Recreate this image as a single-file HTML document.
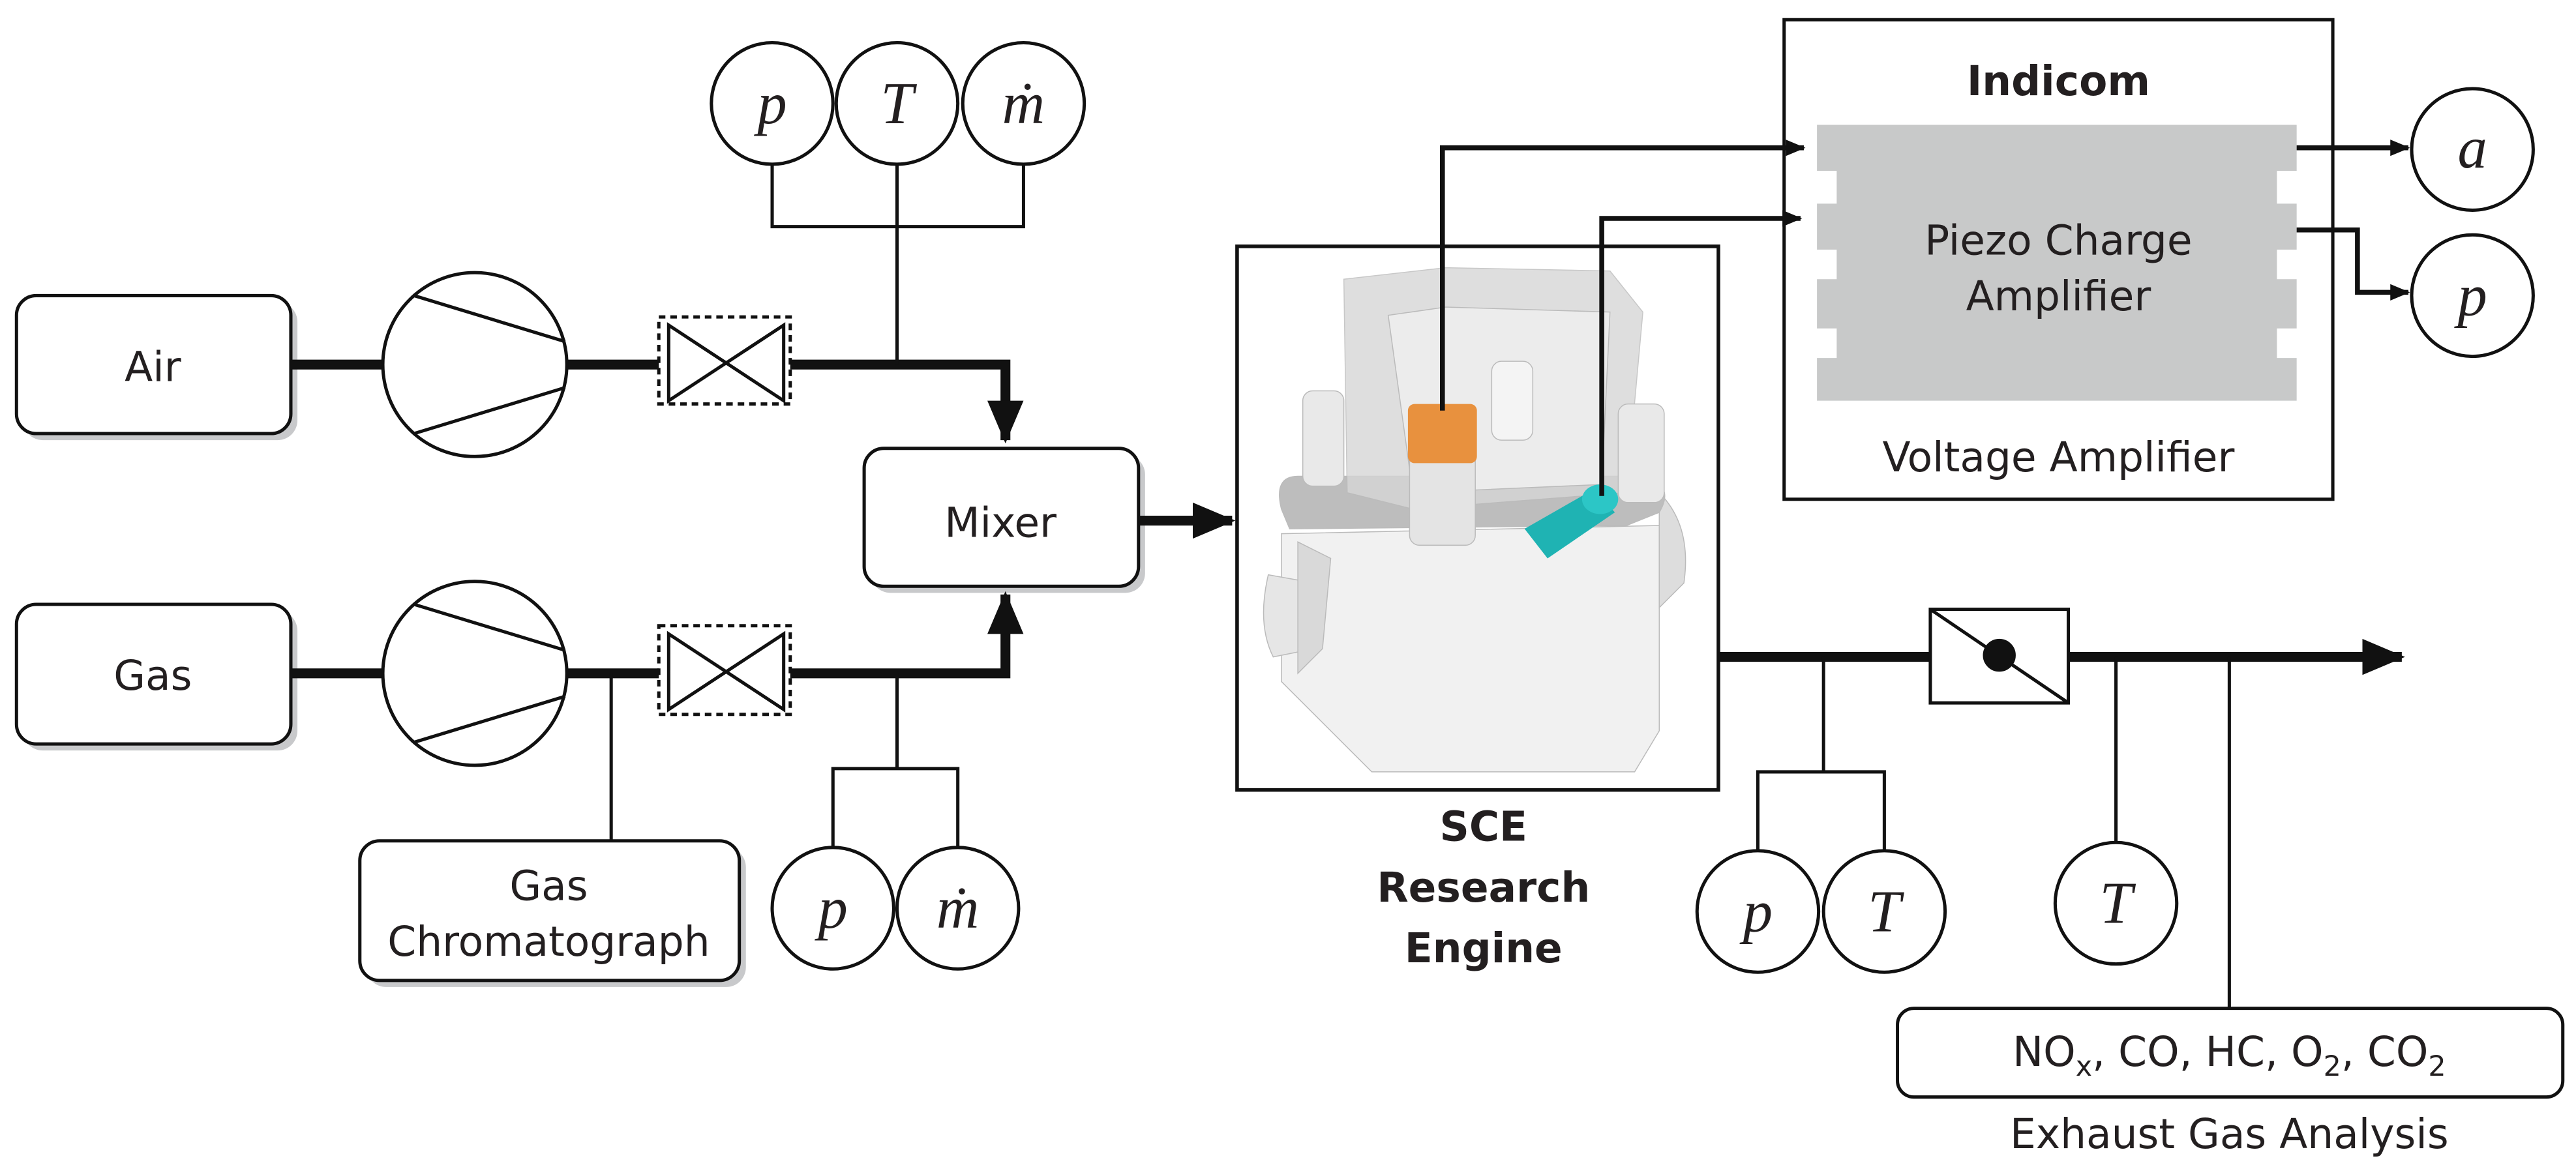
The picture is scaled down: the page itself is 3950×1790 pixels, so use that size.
<!DOCTYPE html>
<html><head><meta charset="utf-8"><style>
html,body{margin:0;padding:0;background:#fff;}
svg{display:block;}
text{font-family:"DejaVu Sans","Liberation Sans",sans-serif;fill:#231f20;}
.m{font-family:"Liberation Serif",serif;font-style:italic;font-size:36px;}
</style></head><body>
<svg width="3950" height="1790" viewBox="0 0 1568 710.6" xmlns="http://www.w3.org/2000/svg">
<defs>
<marker id="as" markerWidth="12" markerHeight="10" refX="11" refY="5" orient="auto" markerUnits="userSpaceOnUse"><path d="M0,0 L12,5 L0,10 z" fill="#111"/></marker>
<marker id="ab" markerWidth="26" markerHeight="22" refX="24" refY="11" orient="auto" markerUnits="userSpaceOnUse"><path d="M0,0 L26,11 L0,22 z" fill="#111"/></marker>
</defs>
<g fill="none" stroke="#111" stroke-width="2">
<rect x="14" y="184" width="167" height="84" rx="12" fill="#c8c9cb" stroke="none"/>
<rect x="14" y="372" width="167" height="85" rx="12" fill="#c8c9cb" stroke="none"/>
<rect x="223" y="516" width="231" height="85" rx="12" fill="#c8c9cb" stroke="none"/>
<rect x="530" y="277" width="167" height="84" rx="12" fill="#c8c9cb" stroke="none"/>
<rect x="10" y="180" width="167" height="84" rx="12" fill="#fff"/>
<rect x="10" y="368" width="167" height="85" rx="12" fill="#fff"/>
<rect x="219" y="512" width="231" height="85" rx="12" fill="#fff"/>
<rect x="526" y="273" width="167" height="84" rx="12" fill="#fff"/>
<rect x="1155" y="614" width="405" height="54" rx="10" fill="#fff"/>
<g stroke-width="6">
<line x1="177" y1="222" x2="233" y2="222"/><line x1="345" y1="222" x2="404" y2="222"/>
<path d="M478,222 H612 V268" marker-end="url(#ab)"/>
<line x1="177" y1="410" x2="233" y2="410"/><line x1="345" y1="410" x2="404" y2="410"/>
<path d="M478,410 H612 V362" marker-end="url(#ab)"/>
<path d="M693,317 H750" marker-end="url(#ab)"/>
<line x1="1046" y1="400" x2="1175" y2="400"/>
<path d="M1259,400 H1462" marker-end="url(#ab)"/>
</g>
<circle cx="289" cy="222" r="56" fill="#fff"/>
<line x1="252" y1="180" x2="344" y2="208"/><line x1="252" y1="264" x2="344" y2="236"/>
<circle cx="289" cy="410" r="56" fill="#fff"/>
<line x1="252" y1="368" x2="344" y2="396"/><line x1="252" y1="452" x2="344" y2="424"/>
<rect x="401" y="193" width="80" height="53" stroke-dasharray="4,3" fill="#fff"/>
<path d="M407,198 L477,244 V198 L407,244 Z" fill="#fff"/>
<rect x="401" y="381" width="80" height="54" stroke-dasharray="4,3" fill="#fff"/>
<path d="M407,386 L477,432 V386 L407,432 Z" fill="#fff"/>
<path d="M470,100 V138 H623 V100 M546,100 V222"/>
<path d="M372,410 V512"/>
<path d="M546,410 V468 M507,516 V468 H583 V516"/>
<path d="M1110,400 V470 M1070,518 V470 H1147 V518"/>
<path d="M1288,400 V513"/>
<path d="M1357,400 V614"/>
<circle cx="470" cy="63" r="37" fill="#fff"/><circle cx="546" cy="63" r="37" fill="#fff"/><circle cx="623" cy="63" r="37" fill="#fff"/>
<circle cx="507" cy="553" r="37" fill="#fff"/><circle cx="583" cy="553" r="37" fill="#fff"/>
<circle cx="1070" cy="555" r="37" fill="#fff"/><circle cx="1147" cy="555" r="37" fill="#fff"/>
<circle cx="1288" cy="550" r="37" fill="#fff"/>
<circle cx="1505" cy="91" r="37" fill="#fff"/><circle cx="1505" cy="180" r="37" fill="#fff"/>
<rect x="1175" y="371" width="84" height="57" fill="#fff"/>
<line x1="1175" y1="371" x2="1259" y2="428"/>
<circle cx="1217" cy="399" r="9" fill="#111"/>
<rect x="1086" y="12" width="334" height="292" fill="#fff"/>
</g>
<path d="M1106,76 H1398 V104 H1386 V124 H1398 V152 H1386 V170 H1398 V200 H1386 V218 H1398 V244 H1106 V218 H1118 V200 H1106 V170 H1118 V152 H1106 V124 H1118 V104 H1106 Z" fill="#c8c9c9"/>
<rect x="753" y="150" width="293" height="331" fill="#fff" stroke="#111" stroke-width="2.2"/>
<g stroke="#bbb" stroke-width="0.6">
<path d="M780,325 L780,415 L835,470 L995,470 L1010,445 L1010,320 Z" fill="#f1f1f1"/>
<path d="M772,350 Q765,380 775,400 L800,395 L800,355 Z" fill="#e6e6e6"/>
<path d="M790,330 L790,410 L805,395 L810,340 Z" fill="#d9d9d9"/>
<path d="M1010,300 Q1030,320 1025,355 L1010,370 Z" fill="#ddd"/>
<path d="M780,310 Q775,290 790,290 L1000,290 Q1020,295 1010,312 L990,320 L785,322 Z" fill="#bdbdbd"/>
<path d="M818,170 L880,163 L980,165 L1000,190 L990,300 L860,310 L820,300 Z" fill="#d6d6d6" opacity="0.8"/>
<path d="M845,192 L880,187 L980,190 L975,295 L860,300 Z" fill="#ececec"/>
<rect x="793" y="238" width="25" height="58" rx="6" fill="#e9e9e9"/>
<rect x="985" y="246" width="28" height="60" rx="6" fill="#e9e9e9"/>
<rect x="908" y="220" width="25" height="48" rx="6" fill="#f4f4f4"/>
<rect x="858" y="270" width="40" height="62" rx="6" fill="#e4e4e4"/>
</g>
<rect x="857" y="246" width="42" height="36" rx="4" fill="#e8913e"/>
<path d="M928,322 L970,298 L983,312 L942,340 Z" fill="#1fb3b3"/>
<ellipse cx="974" cy="304" rx="11" ry="9" fill="#2cc6c6"/>
<g fill="none" stroke="#111" stroke-width="3">
<path d="M878,250 V90 H1098" marker-end="url(#as)"/>
<path d="M975,302 V133 H1096" marker-end="url(#as)"/>
<path d="M1398,90 H1466" marker-end="url(#as)"/>
<path d="M1398,140 H1435 V178 H1466" marker-end="url(#as)"/>
</g>
<g font-size="25" text-anchor="middle">
<text x="93" y="232">Air</text>
<text x="93" y="420">Gas</text>
<text x="334" y="548">Gas</text>
<text x="334" y="582">Chromatograph</text>
<text x="609" y="327">Mixer</text>
<text x="1253" y="155">Piezo Charge</text>
<text x="1253" y="189">Amplifier</text>
<text x="1253" y="287">Voltage Amplifier</text>
<text x="1357" y="649">NO<tspan font-size="17" dy="6">x</tspan><tspan dy="-6">, CO, HC, O</tspan><tspan font-size="17" dy="6">2</tspan><tspan dy="-6">, CO</tspan><tspan font-size="17" dy="6">2</tspan></text>
<text x="1357" y="699">Exhaust Gas Analysis</text>
<g font-weight="bold"><text x="1253" y="58">Indicom</text>
<text x="903" y="512">SCE</text><text x="903" y="549">Research</text><text x="903" y="586">Engine</text></g>
</g>
<g text-anchor="middle">
<text x="470" y="75" class="m">p</text><text x="546" y="75" class="m">T</text><text x="623" y="75" class="m">ṁ</text>
<text x="507" y="565" class="m">p</text><text x="583" y="565" class="m">ṁ</text>
<text x="1070" y="567" class="m">p</text><text x="1147" y="567" class="m">T</text>
<text x="1288" y="562" class="m">T</text>
<text x="1505" y="102" class="m">a</text><text x="1505" y="192" class="m">p</text>
</g>
</svg>
</body></html>
